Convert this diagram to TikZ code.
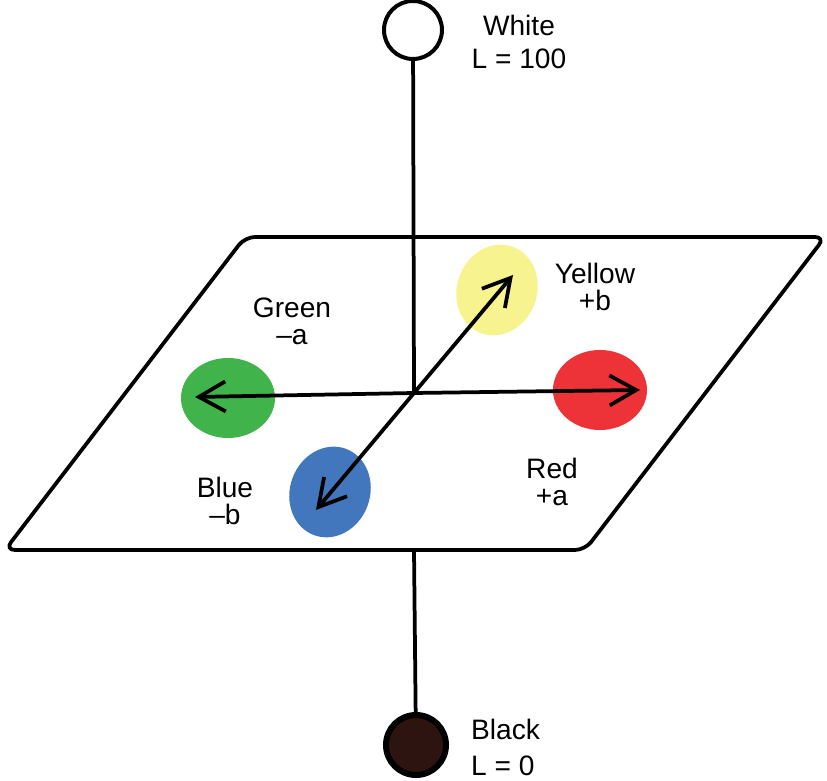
\documentclass[tikz,border=0pt]{standalone}
\usepackage{fontspec}
\setmainfont{Liberation Sans}
\usetikzlibrary{arrows.meta,shapes.geometric}
\definecolor{labgreen}{HTML}{40B44A}
\definecolor{labred}{HTML}{EE3338}
\definecolor{labyellow}{HTML}{F7F38E}
\definecolor{labblue}{HTML}{4277BE}
\definecolor{labblack}{HTML}{2D1411}

\begin{document}
\begin{tikzpicture}[x=0.03cm,y=0.03cm]
\tikzset{pole/.style = {shape=circle,draw,inner sep=0pt}}
\tikzset{blob/.style = {shape=ellipse,inner sep=0pt,minimum width=2.82cm,minimum height=2.4cm}}
\tikzset{tiltblob/.style = {shape=ellipse,inner sep=0pt,minimum width=2.4cm,minimum height=2.76cm,rotate=-20}}
\tikzset{stem/.style = {-,line width=3.2pt}}
\tikzset{axis/.style = {-{Straight Barb[length=0.8cm,width=0.9cm,line width=3.2pt]},line width=3.2pt}}
\tikzset{txt/.style = {inner sep=0pt,align=center,font=\fontsize{24}{23}\selectfont}}
\useasboundingbox (0,0) rectangle (827,781);

%plane
\draw[line width=3.2pt,rounded corners=0.3cm,fill=white] (245,544) -- (825,544) -- (585,231) -- (5,231) -- cycle;
\coordinate (O) at (414,388);
\coordinate (pb) at (414,231);

%colours
\node[blob,fill=labgreen] (green) at (228,383) {};
\node[blob,fill=labred] (red) at (600,391) {};
\node[tiltblob,fill=labyellow] (yellow) at (497,491) {};
\node[tiltblob,fill=labblue] (blue) at (330,289) {};
\coordinate (gtip) at (195,384);
\coordinate (rtip) at (640,391);
\coordinate (ytip) at (513,506);
\coordinate (btip) at (316,271);

%poles
\node[pole,fill=white,minimum size=1.74cm,line width=0.12cm] (white) at (413,751) {};
\node[pole,fill=labblack,minimum size=1.8cm,line width=0.18cm] (black) at (416,36) {};

%edges
\draw[stem] (white) -- (O);
\draw[stem] (pb) -- (black);
\draw[axis] (O) -- (gtip);
\draw[axis] (O) -- (rtip);
\draw[axis] (O) -- (ytip);
\draw[axis] (O) -- (btip);

%labels
\node[txt,anchor=north,font=\fontsize{24}{28}\selectfont] (whitetxt) at (519,766) {White\\L = 100};
\node[txt,anchor=north west,align=left,font=\fontsize{24}{31}\selectfont] (blacktxt) at (471,62) {Black\\L = 0};
\node[txt,anchor=north] (greentxt) at (292,483) {Green\\–a};
\node[txt,anchor=north] (yellowtxt) at (595,518) {Yellow\\+b};
\node[txt,anchor=north] (bluetxt) at (225,304) {Blue\\–b};
\node[txt,anchor=north] (redtxt) at (552,323) {Red\\+a};
\end{tikzpicture}
\end{document}
